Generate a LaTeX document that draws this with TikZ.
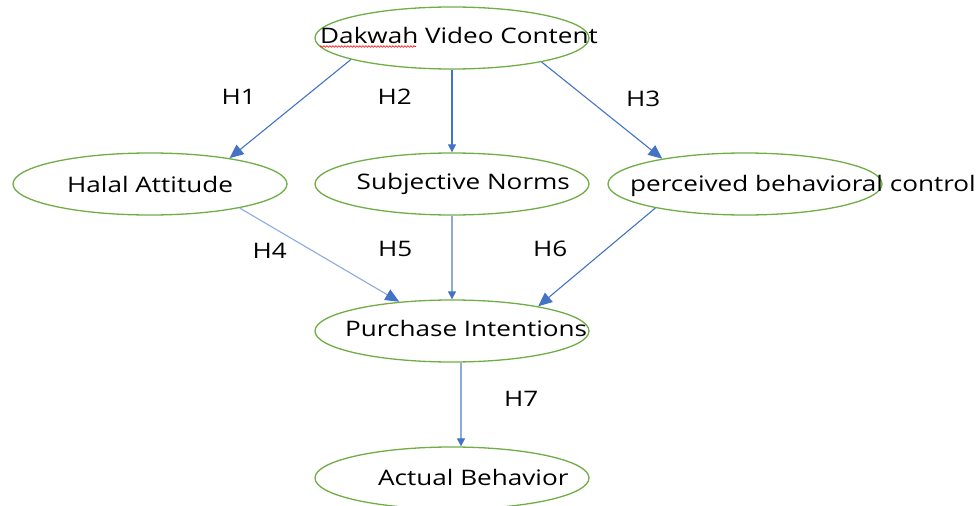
\documentclass[tikz,border=0pt]{standalone}
\usepackage{fontspec}
\setmainfont{Open Sans}[FakeStretch=1.22]
\usetikzlibrary{arrows.meta,shapes.geometric,decorations.pathmorphing}
\definecolor{ovalgreen}{HTML}{70AD47}
\definecolor{arrblue}{HTML}{4472C4}
\definecolor{paleblue}{HTML}{8FAADC}

\begin{document}
\begin{tikzpicture}[x=1pt,y=-1pt,
		oval/.style={draw=ovalgreen,line width=1.3pt,ellipse,minimum width=274pt,minimum height=62pt,inner sep=0pt},
		txt/.style={anchor=base west,inner sep=0pt,font=\fontsize{21.4}{25}\selectfont},
		bigarr/.style={-{Triangle[length=14pt,width=12pt,color=arrblue]},draw=arrblue,line width=1.1pt},
		smallarr/.style={-{Triangle[length=8pt,width=8pt,color=arrblue]},draw=arrblue,line width=1.1pt}]
		\useasboundingbox (0,0) rectangle (978,506);

		% the six constructs
		\node[oval] (dvc) at (452,38) {};
		\node[oval] (ha) at (150,184) {};
		\node[oval] (sn) at (452,184) {};
		\node[oval] (pbc) at (745,184) {};
		\node[oval] (pi) at (452,331) {};
		\node[oval] (ab) at (452,478) {};

		\node[txt] (dvct) at (320,43) {Dakwah Video Content};
		\node[txt] (hat) at (67,192.5) {Halal Attitude};
		\node[txt] (snt) at (356.5,189) {Subjective Norms};
		\node[txt] (pbct) at (630,191.5) {perceived behavioral control};
		\node[txt] (pit) at (345,336.5) {Purchase Intentions};
		\node[txt] (abt) at (378,485.5) {Actual Behavior};
		\draw[red,line width=0.6pt,decorate,decoration={snake,amplitude=0.8pt,segment length=3pt}]
			(dvct.base west) ++(0,3.5) -- ++(96,0);

		% hypotheses
		\draw[bigarr] (dvc.192) -- (ha.18);
		\draw[smallarr] (dvc.south) -- (sn.north);
		\draw[bigarr] (dvc.345) -- (pbc.163);
		\draw[bigarr,draw=paleblue] (ha.345) -- (pi.151);
		\draw[smallarr,draw=paleblue] (sn.south) -- (pi.north);
		\draw[bigarr] (pbc.195) -- (pi.16);
		\draw[smallarr,draw=paleblue] ([xshift=9pt]pi.south) -- ([xshift=9pt]ab.north);

		\node[txt] (h1) at (221.5,104) {H1};
		\node[txt] (h2) at (377.5,104) {H2};
		\node[txt] (h3) at (626,106) {H3};
		\node[txt] (h4) at (252.5,258) {H4};
		\node[txt] (h5) at (378,256) {H5};
		\node[txt] (h6) at (533,256) {H6};
		\node[txt] (h7) at (504,406.5) {H7};
	\end{tikzpicture}
\end{document}
